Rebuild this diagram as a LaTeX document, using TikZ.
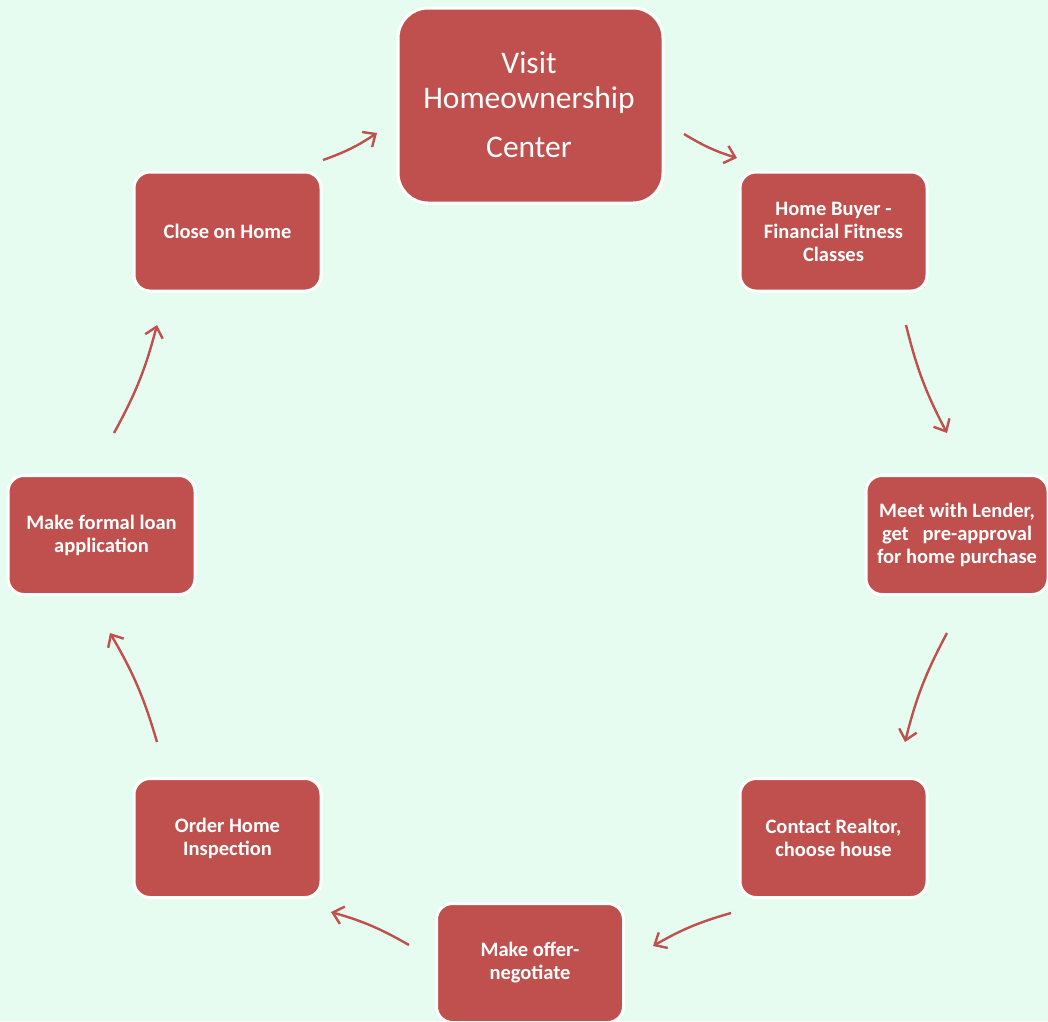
\documentclass[tikz,border=0pt]{standalone}
\usepackage{fontspec}
\setmainfont{Carlito}
\usetikzlibrary{arrows.meta}
\definecolor{bgmint}{RGB}{230,252,240}
\definecolor{boxred}{RGB}{192,80,77}
\tikzset{
  stepbox/.style={rectangle, rounded corners=16pt, fill=boxred, draw=white, line width=3pt,
    minimum width=187pt, minimum height=119pt, text=white, align=center,
    font=\fontsize{20.5}{23}\selectfont\bfseries, inner sep=2pt},
  bigbox/.style={stepbox, rounded corners=30pt, minimum width=265pt, minimum height=195pt,
    font=\fontsize{31.5}{35}\selectfont},
  flow/.style={draw=boxred, line width=2.4pt, -{Straight Barb[length=10pt,width=18pt,line width=2.4pt]}, bend right=7}
}
\begin{document}
\begin{tikzpicture}[x=1pt,y=-1pt]
\path[fill=bgmint] (0,0) rectangle (1048,1021);
\useasboundingbox (0,0) rectangle (1048,1021);
\node[bigbox] (visit) at (530.5,105.5) {};
\node[text=white, font=\fontsize{31.5}{35}\selectfont, align=center, inner sep=0pt] (visittext) at (529,105) {Visit\\Homeownership\\[14pt]Center};
\node[stepbox] (buyer) at (833.5,231.5) {Home Buyer -\\Financial Fitness\\Classes};
\node[stepbox, minimum width=182pt] (lender) at (957,535) {Meet with Lender,\\get \ \ pre-approval\\for home purchase};
\node[stepbox] (realtor) at (833.5,838) {Contact Realtor,\\choose house};
\node[stepbox] (offer) at (530,963) {Make offer-\\negotiate};
\node[stepbox] (inspect) at (227.5,838) {Order Home\\Inspection};
\node[stepbox] (loan) at (101.5,535) {Make formal loan\\application};
\node[stepbox] (close) at (227.5,231.5) {Close on Home};
\coordinate (a1s) at (323,160); \coordinate (a1e) at (377,133);
\coordinate (a2s) at (684,134); \coordinate (a2e) at (737,158);
\coordinate (a3s) at (906,325); \coordinate (a3e) at (947,433);
\coordinate (a4s) at (947,633); \coordinate (a4e) at (905,742);
\coordinate (a5s) at (731,913); \coordinate (a5e) at (653,946);
\coordinate (a6s) at (409,945); \coordinate (a6e) at (331,912);
\coordinate (a7s) at (157,742); \coordinate (a7e) at (110,633);
\coordinate (a8s) at (114,433); \coordinate (a8e) at (157,325);
\draw[flow] (a1s) to (a1e);
\draw[flow] (a2s) to (a2e);
\draw[flow] (a3s) to (a3e);
\draw[flow] (a4s) to (a4e);
\draw[flow] (a5s) to (a5e);
\draw[flow] (a6s) to (a6e);
\draw[flow] (a7s) to (a7e);
\draw[flow] (a8s) to (a8e);
\end{tikzpicture}
\end{document}
